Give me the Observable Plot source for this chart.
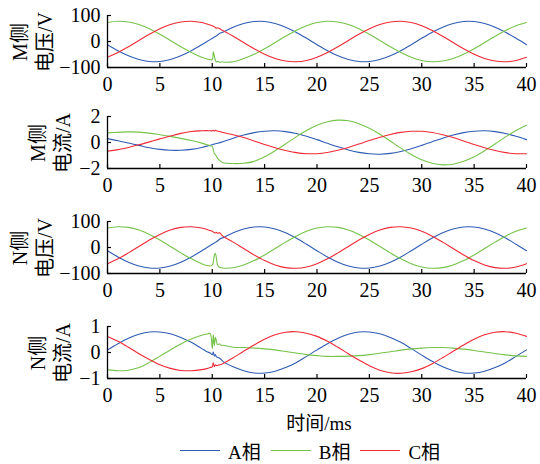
<!DOCTYPE html>
<html><head><meta charset="utf-8">
<script src="https://cdn.jsdelivr.net/npm/d3@7"></script>
<script src="https://cdn.jsdelivr.net/npm/@observablehq/plot@0.6"></script>
<style>
body{margin:0;background:#fff;}
#chart{position:relative;width:540px;height:464px;overflow:hidden;font-family:"Liberation Serif","Times New Roman","Noto Sans CJK SC",serif;color:#000;}
.panel{position:absolute;left:0;}
.ylab{position:absolute;transform:translate(-50%,-50%) rotate(-90deg);white-space:nowrap;font-size:20px;line-height:25px;text-align:center;}
.xlab{position:absolute;left:319px;top:421px;transform:translate(-50%,-50%);font-size:19px;white-space:nowrap;}
.legend{position:absolute;top:438px;height:24px;display:flex;align-items:center;font-size:19px;}
.legend .sw{display:inline-block;width:40px;height:0;border-top:1.5px solid;margin-right:8px;}
.legend .it{display:flex;align-items:center;margin-right:10px;}
</style></head><body><div id="chart"></div>
<script>
const time = [0,1,2,3,4,5,6,7,8,9,9.5,9.8,10,10.1,10.2,10.3,10.4,10.5,10.7,10.9,11,12,13,14,15,16,17,18,19,20,21,22,23,24,25,26,27,28,29,30,31,32,33,34,35,36,37,38,39,40];
const phases = ["A相","B相","C相"];
const phaseColors = ["#2f5cb3","#76c34a","#ee2a35"];
const xTicks = [0,5,10,15,20,25,30,35,40];

// M side voltage (V)
const mVoltA = [-12.2,-35.4,-55.1,-69.5,-77.1,-77.1,-69.5,-55.1,-35.4,-12.2, 0,7.3, 12.2,14.6,17,19.4,21.8,25,31,34,
  35.4,55.1,69.5,77.1,77.1,69.5,55.1,35.4,12.2,-12.2,-35.4,-55.1,-69.5,-77.1,-77.1,-69.5,-55.1,-35.4,-12.2,12.2,35.4,55.1,69.5,77.1,77.1,69.5,55.1,35.4,12.2,-12.2];
const mVoltB = [72.9,77.9,75.3,65.4,49.1,27.9,4.1,-20.2,-42.5,-60.6, -67.5,-70, -70,-40,-56,-72,-79,-76,-80,-78,
  -79,-78,-65.4,-49.1,-27.9,-4.1,20.2,42.5,60.6,72.9,77.9,75.3,65.4,49.1,27.9,4.1,-20.2,-42.5,-60.6,-72.9,-77.9,-75.3,-65.4,-49.1,-27.9,-4.1,20.2,42.5,60.6,72.9];
const mVoltC = [-60.6,-42.5,-20.2,4.1,27.9,49.1,65.4,75.3,77.9,72.9, 67.5,63.6, 60.6,59,57,53,51,53,50,44,
  42.5,20.2,-4.1,-27.9,-49.1,-65.4,-75.3,-77.9,-72.9,-60.6,-42.5,-20.2,4.1,27.9,49.1,65.4,75.3,77.9,72.9,60.6,42.5,20.2,-4.1,-27.9,-49.1,-65.4,-75.3,-77.9,-72.9,-60.6];

// M side current (A)
const mCurrA = [0.30,0.14,-0.04,-0.22,-0.40,-0.53,-0.60,-0.60,-0.53,-0.38, -0.28,-0.21, -0.17,-0.14,-0.12,-0.1,-0.08,-0.06,-0.01,0.03,
  0.06,0.33,0.57,0.76,0.87,0.9,0.84,0.69,0.48,0.22,-0.06,-0.33,-0.57,-0.76,-0.87,-0.9,-0.84,-0.69,-0.48,-0.22,0.06,0.33,0.57,0.76,0.87,0.9,0.84,0.69,0.48,0.22];
const mCurrB = [0.74,0.78,0.82,0.8,0.72,0.6,0.47,0.32,0.15,-0.05, -0.17,-0.25, -0.3,-0.55,-0.85,-0.95,-1.05,-1.2,-1.38,-1.5,
  -1.55,-1.62,-1.6,-1.45,-1.1,-0.63,-0.11,0.43,0.92,1.33,1.6,1.72,1.67,1.45,1.1,0.63,0.11,-0.43,-0.92,-1.33,-1.6,-1.72,-1.67,-1.45,-1.1,-0.63,-0.11,0.43,0.92,1.33];
const mCurrC = [-0.66,-0.55,-0.38,-0.18,0.05,0.28,0.5,0.7,0.85,0.9, 0.91,0.9, 0.9,0.94,0.88,0.94,0.9,0.88,0.85,0.8,
  0.77,0.6,0.38,0.12,-0.15,-0.4,-0.62,-0.78,-0.86,-0.86,-0.77,-0.6,-0.38,-0.12,0.15,0.4,0.62,0.78,0.86,0.86,0.77,0.6,0.38,0.12,-0.15,-0.4,-0.62,-0.78,-0.86,-0.86];

// N side voltage (V)
const nVoltA = [-12.5,-36.3,-56.5,-71.3,-79,-79,-71.3,-56.5,-36.3,-12.5, 0,7.5, 12.5,15,17.4,19.9,22.3,25,32,36,
  37,56.5,71.3,79,79,71.3,56.5,36.3,12.5,-12.5,-36.3,-56.5,-71.3,-79,-79,-71.3,-56.5,-36.3,-12.5,12.5,36.3,56.5,71.3,79,79,71.3,56.5,36.3,12.5,-12.5];
const nVoltB = [74.7,79.9,77.3,67.1,50.3,28.6,4.2,-20.7,-43.6,-62.2, -69.3,-71, -68,-55,-30,-22,-42,-66,-76,-78,
  -79,-78,-67.1,-50.3,-28.6,-4.2,20.7,43.6,62.2,74.7,79.9,77.3,67.1,50.3,28.6,4.2,-20.7,-43.6,-62.2,-74.7,-79.9,-77.3,-67.1,-50.3,-28.6,-4.2,20.7,43.6,62.2,74.7];
const nVoltC = [-62.2,-43.6,-20.7,4.2,28.6,50.3,67.1,77.3,79.9,74.7, 69.3,65.2, 62.2,60,57,56,58,55,57,48,
  43.6,20.7,-4.2,-28.6,-50.3,-67.1,-77.3,-79.9,-74.7,-62.2,-43.6,-20.7,4.2,28.6,50.3,67.1,77.3,79.9,74.7,62.2,43.6,20.7,-4.2,-28.6,-50.3,-67.1,-77.3,-79.9,-74.7,-62.2];

// N side current (A)
const nCurrA = [0.10,0.34,0.55,0.70,0.79,0.79,0.72,0.58,0.39,0.15, 0.03,-0.02, -0.08,0.02,-0.14,-0.08,-0.17,-0.18,-0.22,-0.29,
  -0.34,-0.55,-0.70,-0.79,-0.79,-0.72,-0.58,-0.39,-0.15,0.10,0.34,0.55,0.70,0.79,0.79,0.72,0.58,0.39,0.15,-0.10,-0.34,-0.55,-0.70,-0.79,-0.79,-0.72,-0.58,-0.39,-0.15,0.10];
const nCurrB = [-0.66,-0.7,-0.68,-0.58,-0.38,-0.14,0.1,0.33,0.52,0.66, 0.71,0.73, 0.15,0.68,0.27,0.58,0.45,0.3,0.33,0.27,
  0.28,0.2,0.19,0.17,0.14,0.1,0.04,-0.02,-0.08,-0.12,-0.15,-0.15,-0.14,-0.12,-0.08,-0.03,0.03,0.09,0.14,0.17,0.19,0.19,0.17,0.13,0.08,0.02,-0.04,-0.09,-0.13,-0.15];
const nCurrC = [0.62,0.43,0.2,-0.05,-0.27,-0.47,-0.61,-0.69,-0.7,-0.66, -0.62,-0.58, -0.55,-0.4,-0.55,-0.47,-0.5,-0.5,-0.47,-0.45,
  -0.43,-0.2,0.05,0.29,0.51,0.68,0.78,0.8,0.74,0.62,0.43,0.2,-0.05,-0.29,-0.51,-0.68,-0.78,-0.8,-0.74,-0.62,-0.43,-0.2,0.05,0.29,0.51,0.68,0.78,0.8,0.74,0.62];

const panelLabels = [["M侧","电压/V"],["M侧","电流/A"],["N侧","电压/V"],["N侧","电流/A"]];
const yDomains = [[-100,100],[-2,2],[-100,100],[-1,1]];
const yTicks = [[-100,0,100],[-2,0,2],[-100,0,100],[-1,0,1]];
const panelSeries = [[mVoltA,mVoltB,mVoltC],[mCurrA,mCurrB,mCurrC],[nVoltA,nVoltB,nVoltC],[nCurrA,nCurrB,nCurrC]];

const layout = {tops:[-1,100,205,310], h:105, mt:16, mb:37, ml:107, mr:14, labX:[32.5,51,32.5,51]};
const chart = document.getElementById("chart");
const fmt = d => (d < 0 ? "\u2212" : "") + Math.abs(d);

panelSeries.forEach((series, p) => {
  const rows = [];
  series.forEach((vals, k) => vals.forEach((v, i) => rows.push({t: time[i], v, phase: phases[k]})));
  const [y0] = yDomains[p];
  const svg = Plot.plot({
    width: 540, height: layout.h,
    marginLeft: layout.ml, marginRight: layout.mr, marginTop: layout.mt, marginBottom: layout.mb,
    style: {fontFamily: '"Liberation Serif","Times New Roman",serif', fontSize: "20px", color: "#000", background: "transparent", overflow: "visible"},
    x: {domain: [0, 40]},
    y: {domain: yDomains[p]},
    color: {domain: phases, range: phaseColors},
    marks: [
      Plot.line(rows, {x: "t", y: "v", z: "phase", stroke: "phase", curve: "catmull-rom", strokeWidth: 1.1}),
      Plot.ruleY([y0], {stroke: "#000", strokeWidth: 1.3}),
      Plot.ruleX([0], {stroke: "#000", strokeWidth: 1.3}),
      // inward tick marks
      Plot.axisX({ticks: xTicks, tickSize: 4, dy: -4, tickFormat: () => "", label: null, stroke: "#000", strokeWidth: 1.2}),
      Plot.axisY({ticks: yTicks[p], tickSize: 4, dx: 4, tickFormat: () => "", label: null, stroke: "#000", strokeWidth: 1.2}),
      // tick labels
      Plot.axisX({ticks: xTicks, tickSize: 0, tickPadding: 9, tickFormat: fmt, label: null}),
      Plot.axisY({ticks: yTicks[p], tickSize: 0, tickPadding: 7, tickFormat: fmt, label: null})
    ]
  });
  svg.classList.add("panel");
  svg.style.top = layout.tops[p] + "px";
  chart.appendChild(svg);
  const lab = document.createElement("div");
  lab.className = "ylab";
  lab.innerHTML = panelLabels[p][0] + "<br>" + panelLabels[p][1];
  lab.style.left = layout.labX[p] + "px";
  lab.style.top = (layout.tops[p] + layout.mt + (layout.h - layout.mt - layout.mb) / 2 + 1) + "px";
  chart.appendChild(lab);
});

const xl = document.createElement("div");
xl.className = "xlab";
xl.textContent = "时间/ms";
chart.appendChild(xl);

const leg = document.createElement("div");
leg.className = "legend";
phases.forEach((ph, k) => {
  const it = document.createElement("span");
  it.className = "it";
  const sw = document.createElement("span");
  sw.className = "sw";
  sw.style.borderTopColor = phaseColors[k];
  it.appendChild(sw);
  it.appendChild(document.createTextNode(ph));
  leg.appendChild(it);
});
leg.style.left = "180px";
chart.appendChild(leg);
</script></body></html>
